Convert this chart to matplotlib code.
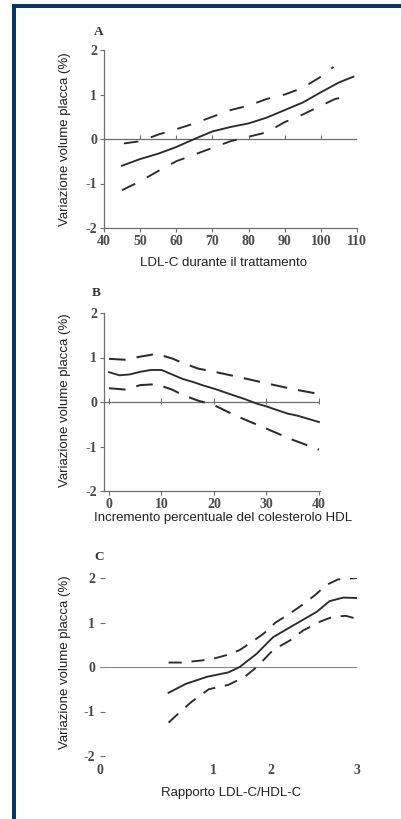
import matplotlib.pyplot as plt
from matplotlib.patches import Rectangle

plt.rcParams['font.family'] = ['Liberation Serif', 'DejaVu Serif']
plt.rcParams['lines.scale_dashes'] = False

# ---- data ----
# A: LDL-C durante il trattamento
a_x = [45, 50, 55, 60, 65, 70, 75, 80, 85, 90, 95, 100, 105, 109]
a_mid = [-0.6, -0.45, -0.33, -0.18, 0.0, 0.17, 0.27, 0.35, 0.48, 0.65, 0.82, 1.05, 1.27, 1.4]
a_up_x = [45.5, 50, 55, 60, 65, 70, 75, 80, 85, 90, 95, 100, 103.5]
a_up = [-0.1, -0.05, 0.1, 0.22, 0.35, 0.5, 0.65, 0.75, 0.9, 1.0, 1.15, 1.4, 1.62]
a_lo_x = [45, 50, 55, 60, 65, 70, 75, 80, 85, 90, 95, 100, 104, 108]
a_lo = [-1.15, -0.95, -0.72, -0.5, -0.35, -0.2, -0.05, 0.05, 0.15, 0.38, 0.55, 0.75, 0.9, 0.97]
a_xticks = [40, 50, 60, 70, 80, 90, 100, 110]

# B: incremento percentuale HDL
b_x = [0, 2, 4, 6, 8, 10, 12, 14, 16, 18, 20, 22, 24, 26, 28, 30, 32, 34, 36, 38, 40]
b_mid = [0.67, 0.6, 0.62, 0.68, 0.72, 0.72, 0.62, 0.52, 0.45, 0.37, 0.3, 0.22, 0.14,
         0.06, -0.03, -0.1, -0.18, -0.26, -0.31, -0.38, -0.45]
b_up_x = [0, 3, 6, 9, 12, 14, 17, 20, 24, 30, 35, 40]
b_up = [0.97, 0.95, 1.02, 1.08, 0.98, 0.88, 0.75, 0.68, 0.58, 0.42, 0.29, 0.18]
b_lo_x = [0, 3, 6, 9, 12, 14, 17, 20, 24, 29, 35, 40]
b_lo = [0.31, 0.28, 0.38, 0.4, 0.28, 0.16, 0.03, -0.07, -0.3, -0.55, -0.85, -1.07]
b_xticks = [0, 10, 20, 30, 40]

# C: rapporto LDL-C/HDL-C (tick "1" sits off-scale in the original)
c_x = [0.8, 1.0, 1.25, 1.5, 1.63, 1.83, 2.02, 2.26, 2.53, 2.68, 2.84, 3.0]
c_mid = [-0.58, -0.38, -0.22, -0.12, 0.0, 0.3, 0.67, 0.94, 1.24, 1.48, 1.56, 1.55]
c_up_x = [0.8, 0.95, 1.2, 1.35, 1.5, 1.63, 1.8, 1.91, 2.05, 2.2, 2.35, 2.5, 2.65, 2.78, 3.0]
c_up = [0.1, 0.1, 0.15, 0.2, 0.28, 0.38, 0.6, 0.75, 1.0, 1.18, 1.38, 1.6, 1.85, 1.97, 2.0]
c_lo_x = [0.8, 0.94, 1.07, 1.27, 1.5, 1.69, 1.83, 2.02, 2.22, 2.37, 2.57, 2.72, 2.87, 3.0]
c_lo = [-1.25, -1.0, -0.78, -0.5, -0.4, -0.22, 0.0, 0.38, 0.6, 0.82, 1.02, 1.13, 1.15, 1.08]
c_tick_pos = [0, 1.32, 2, 3]
c_tick_lab = ['0', '1', '2', '3']

y_ticks = [-2, -1, 0, 1, 2]
y_lab = ['-2', '-1', '0', '1', '2']
ylabel = 'Variazione volume placca (%)'

W, H = 402, 819
fig = plt.figure(figsize=(W / 100, H / 100), dpi=100)
fig.patch.set_facecolor('white')

# blue frame
blue = '#0d3462'
fig.add_artist(Rectangle((12 / W, 0), 4 / W, 1 - 4 / H, transform=fig.transFigure,
                         color=blue, lw=0))
fig.add_artist(Rectangle((12 / W, 1 - 8 / H), 1, 4 / H, transform=fig.transFigure,
                         color=blue, lw=0))


def px_axes(left, top, right, bottom):
    return fig.add_axes([left / W, 1 - bottom / H, (right - left) / W, (bottom - top) / H])


line_c = '#2b2b2b'
axis_c = '#6e6e6e'
tick_c = '#4a4a4a'
lab_font = ['Liberation Sans', 'DejaVu Sans']


def style(ax):
    ax.set_facecolor('none')
    for s in ['top', 'right']:
        ax.spines[s].set_visible(False)
    for s in ['left', 'bottom']:
        ax.spines[s].set_color(axis_c)
        ax.spines[s].set_linewidth(0.9)
    ax.tick_params(colors=axis_c, labelcolor=tick_c, labelsize=10, length=3, width=0.8, pad=2)
    ax.set_ylim(-2, 2)
    ax.set_yticks(y_ticks)
    ax.set_yticklabels(y_lab, fontweight='bold')


# ---- panel A ----
ax = px_axes(104, 50, 357, 228)
style(ax)
ax.set_xlim(40, 110)
ax.set_xticks(a_xticks)
ax.set_xticklabels([str(t) for t in a_xticks], fontweight='bold')
ax.axhline(0, color=axis_c, lw=0.9)
ax.vlines(a_xticks[1:], 0, 0.08, color=axis_c, lw=0.8)
ax.plot(a_x, a_mid, color=line_c, lw=1.35)
ax.plot(a_up_x, a_up, color=line_c, lw=1.35, dashes=(10.5, 9.5))
ax.plot(a_lo_x, a_lo, color=line_c, lw=1.35, dashes=(10.5, 9.5))

# ---- panel B ----
ax = px_axes(104, 313, 320, 491)
style(ax)
ax.set_xlim(-0.95, 40.2)
ax.set_xticks(b_xticks)
ax.set_xticklabels([str(t) for t in b_xticks], fontweight='bold')
ax.axhline(0, color=axis_c, lw=0.9)
ax.vlines(b_xticks, -0.04, 0.08, color=axis_c, lw=0.8)
ax.plot(b_x, b_mid, color=line_c, lw=1.35)
ax.plot(b_up_x, b_up, color=line_c, lw=1.45, dashes=(12, 8))
ax.plot(b_lo_x, b_lo, color=line_c, lw=1.45, dashes=(12, 8))

# ---- panel C ----
ax = px_axes(100, 578, 357, 756)
style(ax)
ax.spines['left'].set_visible(False)
ax.spines['bottom'].set_visible(False)
ax.set_xlim(0, 3)
ax.tick_params(axis='y', direction='in', length=3.5, pad=3.5)
ax.set_xticks(c_tick_pos)
ax.set_xticklabels(c_tick_lab, fontweight='bold')
ax.tick_params(axis='x', length=0, pad=6)
ax.set_xticks([c_tick_pos[1], c_tick_pos[3]], minor=True)
ax.tick_params(axis='x', which='minor', direction='inout', length=4, width=0.8, colors=axis_c)
ax.axhline(0, color='#8a8a8a', lw=0.8)
ax.plot(c_x, c_mid, color=line_c, lw=1.35)
ax.plot(c_up_x, c_up, color=line_c, lw=1.35, dashes=(9.5, 7))
ax.plot(c_lo_x, c_lo, color=line_c, lw=1.35, dashes=(9.5, 7))

# ---- texts ----
for cy in [139, 400, 662]:
    fig.text(65 / W, 1 - cy / H, ylabel, rotation=90, ha='center', va='center',
             fontsize=9.5, family=lab_font, color='#222222')
xlabels = [(224, 263, 'LDL-C durante il trattamento'),
           (223, 518, 'Incremento percentuale del colesterolo HDL'),
           (231, 793, 'Rapporto LDL-C/HDL-C')]
for cx, cy, txt in xlabels:
    fig.text(cx / W, 1 - cy / H, txt, ha='center', va='center',
             fontsize=9.5, family=lab_font, color='#222222')
for cx, cy, txt in [(99, 32, 'A'), (96, 293, 'B'), (99, 557, 'C')]:
    fig.text(cx / W, 1 - cy / H, txt, ha='center', va='center',
             fontsize=9.5, fontweight='bold', color='#333333')

fig.savefig('out.png', dpi=100)
